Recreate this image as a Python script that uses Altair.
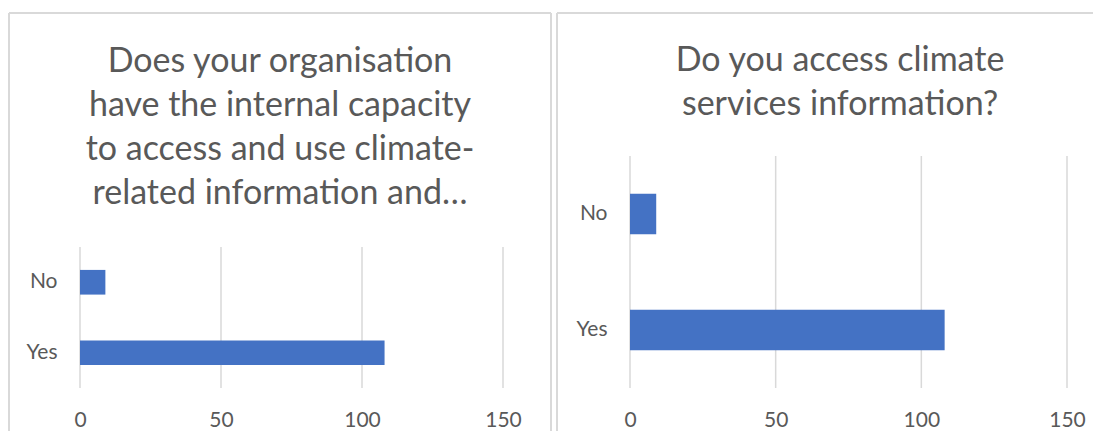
import altair as alt
import pandas as pd

# ---- data ----
answers = ["No", "Yes"]
capacity_counts = [9, 108]
access_counts = [9, 108]
x_ticks = [0, 50, 100, 150]
title_capacity = ["Does your organisation", "have the internal capacity",
                  "to access and use climate-", "related information and…"]
title_access = ["Do you access climate", "services information?"]

FONT = "Lato"
TXT = "#595959"
BORDER = "#D9D9D9"
BAR = "#4472C4"
VIEW_H = 232


def panel(counts, title_lines, w, band_top, b_left, b_right, right_border,
          title_x, title_y):
    b_top, b_bottom = -143, 275
    df = pd.DataFrame({"answer": answers, "count": counts})
    xscale = alt.Scale(domain=[0, 150], nice=False)
    grid = alt.Chart(pd.DataFrame({"v": x_ticks})).mark_rule(
        color=BORDER, strokeWidth=1.5).encode(
        x=alt.X("v:Q", scale=xscale,
                axis=alt.Axis(values=x_ticks, title=None, grid=False,
                              domain=False, ticks=False, labelPadding=21,
                              labelFlush=False, labelFont=FONT,
                              labelFontSize=21, labelColor=TXT)),
        y=alt.value(band_top), y2=alt.value(VIEW_H))
    bars = alt.Chart(df).mark_bar(color=BAR).encode(
        x=alt.X("count:Q", scale=xscale),
        y=alt.Y("answer:N", sort=answers,
                scale=alt.Scale(range=[band_top, VIEW_H],
                                paddingInner=0.65, paddingOuter=0.325),
                axis=alt.Axis(title=None, domain=False, ticks=False,
                              labelPadding=23, labelFont=FONT,
                              labelFontSize=21, labelColor=TXT)),
    )
    one = alt.Chart(pd.DataFrame({"k": [0]}))
    top = one.mark_rule(color=BORDER, strokeWidth=2).encode(
        x=alt.value(b_left), x2=alt.value(b_right),
        y=alt.value(b_top), y2=alt.value(b_top))
    left = one.mark_rule(color=BORDER, strokeWidth=2).encode(
        x=alt.value(b_left), x2=alt.value(b_left),
        y=alt.value(b_top), y2=alt.value(b_bottom))
    title = one.mark_text(font=FONT, fontSize=34, color=TXT,
                          lineHeight=44, align="center",
                          baseline="middle").encode(
        x=alt.value(title_x), y=alt.value(title_y),
        text=alt.value(title_lines))
    layers = [top, left]
    if right_border:
        layers.append(one.mark_rule(color=BORDER, strokeWidth=2).encode(
            x=alt.value(b_right), x2=alt.value(b_right),
            y=alt.value(b_top), y2=alt.value(b_bottom)))
    layers += [title, grid, bars]
    return alt.layer(*layers).properties(width=w, height=VIEW_H)


p1 = panel(capacity_counts, title_capacity, 423, 91,
           -71, 471, True, 200, -94)
p2 = panel(access_counts, title_access, 437, 0,
           -73, 463, False, 210, -95)

chart = alt.hconcat(p1, p2, spacing=4).properties(
    padding={"left": 0, "top": 4, "right": 0, "bottom": 0}
).configure_view(stroke=None)

chart.save("out.html", embed_options={"renderer": "svg", "actions": False})
